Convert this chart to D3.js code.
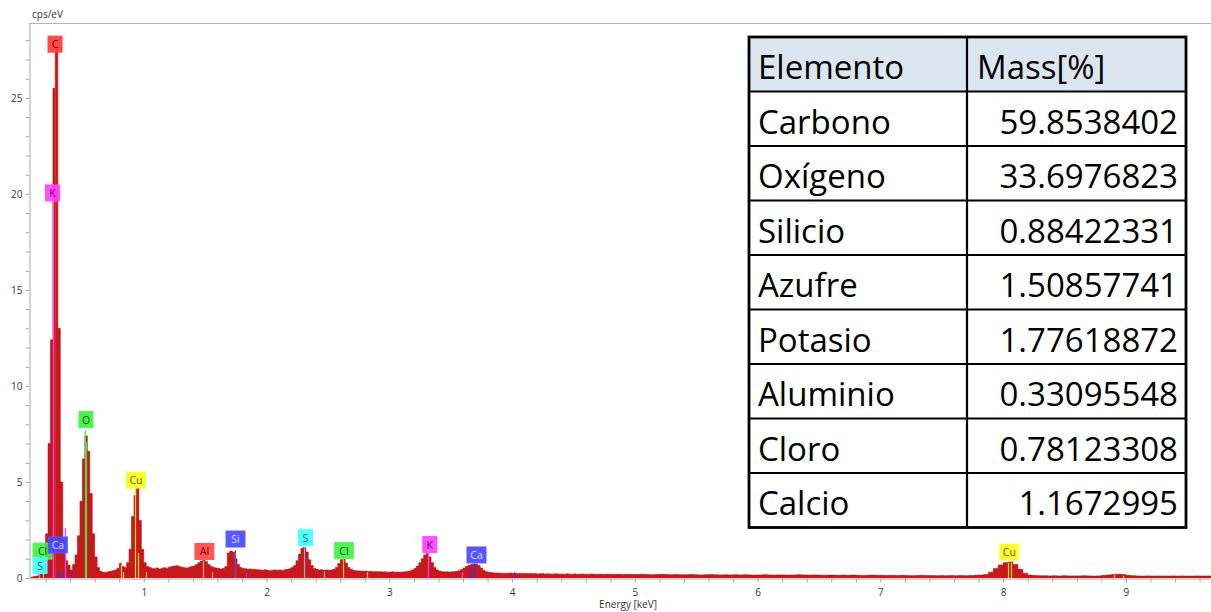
<!DOCTYPE html>
<html>
<head>
<meta charset="utf-8">
<script src="https://cdn.jsdelivr.net/npm/d3@7/dist/d3.min.js"></script>
<style>
  html, body { margin: 0; padding: 0; background: #fff; }
  svg { display: block; }
</style>
</head>
<body>
<svg id="chart" width="1211" height="612"></svg>
<script>
// EDS spectrum: counts per eV, channel groups read at fixed energy steps
const lowStartKeV = 0.08, lowStepKeV = 0.02;
const cpsLow = [
  0.05, 0.08, 0.10, 0.15, 0.25, 0.50, 2.30, 7.00, 12.4, 25.5,
  27.6, 13.0, 5.00, 2.00, 0.90, 0.68, 0.42, 0.70, 1.20, 2.20,
  4.00, 6.20, 7.40, 6.60, 4.40, 2.30, 1.10, 0.55, 0.35, 0.30,
  0.28, 0.32, 0.35, 0.38, 0.42, 0.50, 0.75, 0.60, 0.55, 0.80,
  1.50, 3.20, 4.30, 4.70, 3.00, 1.50, 0.80, 0.60, 0.55, 0.50,
  0.48, 0.52, 0.47, 0.50, 0.54, 0.50, 0.56, 0.60, 0.62, 0.64,
  0.60, 0.56, 0.54, 0.52, 0.55, 0.60, 0.62, 0.70, 0.80, 0.88,
  0.92, 0.85, 0.70, 0.60, 0.55, 0.52, 0.50, 0.47, 0.50, 0.60,
  1.30, 1.40, 1.36, 1.00, 0.70, 0.55, 0.50, 0.48, 0.46, 0.47,
  0.45, 0.44, 0.43, 0.42, 0.40, 0.43, 0.40, 0.38, 0.41, 0.42,
  0.40, 0.42, 0.39, 0.43, 0.45, 0.48, 0.55, 0.65, 0.90, 1.25,
  1.55, 1.60, 1.35, 0.95, 0.65, 0.50, 0.45, 0.42, 0.43, 0.40,
  0.42, 0.40, 0.42, 0.45, 0.55, 0.75, 0.95, 1.00, 0.78, 0.55,
  0.45, 0.40, 0.38, 0.37, 0.36, 0.35, 0.36, 0.34, 0.35, 0.33,
  0.33, 0.32, 0.33, 0.31, 0.32, 0.30, 0.31, 0.32, 0.30, 0.31,
  0.30, 0.31, 0.32, 0.34, 0.37, 0.42, 0.50, 0.62, 0.80, 1.00,
  1.20, 1.27, 1.10, 0.80, 0.55, 0.42, 0.36, 0.33, 0.32, 0.32,
  0.31, 0.32, 0.33, 0.35, 0.38, 0.44, 0.52, 0.60, 0.66, 0.70,
  0.73, 0.72, 0.65, 0.52, 0.40, 0.33, 0.30, 0.28, 0.27, 0.26,
  0.26, 0.25, 0.25, 0.24, 0.25, 0.26, 0.24, 0.25, 0.23, 0.24,
  0.23, 0.24, 0.22, 0.23, 0.22, 0.23, 0.21, 0.22, 0.23, 0.21,
  0.22, 0.21, 0.20, 0.22, 0.21, 0.20, 0.21, 0.20, 0.22, 0.20,
  0.20, 0.21, 0.19, 0.20, 0.21, 0.20, 0.19, 0.20, 0.21, 0.19,
  0.20, 0.19, 0.20, 0.18, 0.19, 0.20, 0.19, 0.18, 0.19, 0.20,
  0.19, 0.18, 0.19, 0.18, 0.19, 0.18
];
const highStartKeV = 5.00, highStepKeV = 0.04;
const cpsHigh = [
  0.18, 0.19, 0.18, 0.17, 0.18, 0.19, 0.18, 0.17, 0.18, 0.17,
  0.17, 0.18, 0.17, 0.16, 0.17, 0.18, 0.17, 0.16, 0.17, 0.16,
  0.17, 0.16, 0.17, 0.16, 0.15, 0.16, 0.17, 0.16, 0.15, 0.16,
  0.16, 0.15, 0.16, 0.17, 0.16, 0.15, 0.16, 0.15, 0.14, 0.15,
  0.15, 0.14, 0.15, 0.14, 0.15, 0.14, 0.13, 0.14, 0.15, 0.14,
  0.14, 0.13, 0.14, 0.13, 0.14, 0.13, 0.12, 0.13, 0.14, 0.13,
  0.13, 0.12, 0.13, 0.12, 0.13, 0.12, 0.13, 0.12, 0.13, 0.14,
  0.15, 0.18, 0.30, 0.50, 0.68, 0.80, 0.83, 0.70, 0.45, 0.25,
  0.15, 0.13, 0.12, 0.12, 0.11, 0.12, 0.11, 0.12, 0.11, 0.11,
  0.11, 0.12, 0.11, 0.10, 0.11, 0.13, 0.16, 0.18, 0.20, 0.18,
  0.14, 0.12, 0.11, 0.10, 0.11, 0.10, 0.11, 0.10, 0.10, 0.11,
  0.10, 0.11, 0.10, 0.10, 0.11, 0.10, 0.10, 0.11, 0.10
];

// Characteristic line markers: element, energy (keV), height (cps/eV)
const markerElement = ['S', 'Cl', 'K', 'C', 'Ca', 'Ca', 'K', 'Ca', 'O', 'O',
  'Cu', 'Cu', 'Cu', 'Cu', 'Cu', 'Al', 'Al', 'Si', 'Si', 'S', 'S', 'Cl', 'Cl',
  'K', 'K', 'Ca', 'Ca', 'Ca', 'Cu', 'Cu', 'Cu', 'Cu'];
const markerKeV = [0.149, 0.183, 0.260, 0.277, 0.302, 0.341, 0.357, 0.410, 0.525, 0.530,
  0.811, 0.832, 0.930, 0.950, 1.022, 1.486, 1.557, 1.740, 1.836, 2.307, 2.464, 2.622, 2.815,
  3.313, 3.589, 3.660, 3.691, 4.012, 8.040, 8.060, 8.905, 8.976];
const markerCps = [0.25, 0.35, 20.0, 27.6, 0.40, 0.30, 2.60, 0.30, 7.70, 7.10,
  0.70, 0.30, 4.80, 1.30, 0.30, 0.90, 0.28, 1.45, 0.30, 1.62, 0.35, 1.00, 0.30,
  1.25, 0.30, 0.50, 0.75, 0.30, 0.80, 0.80, 0.15, 0.12];

// Peak identification tags: symbol, centre energy (keV), centre height (cps/eV)
const tagText = ['C', 'K', 'O', 'Cu', 'Cl', 'S', 'Ca', 'Al', 'Si', 'S', 'Cl', 'K', 'Ca', 'Cu'];
const tagKeV = [0.277, 0.257, 0.529, 0.936, 0.175, 0.155, 0.300, 1.494, 1.747, 2.317, 2.630, 3.330, 3.710, 8.050];
const tagCps = [27.8, 20.05, 8.25, 5.10, 1.40, 0.65, 1.72, 1.38, 2.03, 2.10, 1.43, 1.74, 1.20, 1.35];

// Axis ticks
const yTickValues = d3.range(0, 29, 1);
const xTickValues = d3.range(1, 49).map(i => +(i * 0.2).toFixed(1));

// Quantification table
const tableHeader = ['Elemento', 'Mass[%]'];
const elementNames = ['Carbono', 'Oxígeno', 'Silicio', 'Azufre', 'Potasio', 'Aluminio', 'Cloro', 'Calcio'];
const massPercent = ['59.8538402', '33.6976823', '0.88422331', '1.50857741', '1.77618872', '0.33095548', '0.78123308', '1.1672995'];

// Element colours: tag fill, tag text, marker line
const elementStyle = {
  C:  { fill: '#ff3b3b', text: '#7a0000', line: '#e02a2a' },
  K:  { fill: '#ff40ff', text: '#7a007a', line: '#ff40ff' },
  O:  { fill: '#3ef03e', text: '#1a5a1a', line: '#48e048' },
  Cu: { fill: '#ffff22', text: '#5a5a00', line: '#e8e030' },
  Al: { fill: '#ff4848', text: '#700000', line: '#ff9a9a' },
  Si: { fill: '#4a4aff', text: '#dcdcff', line: '#5050ff' },
  S:  { fill: '#44ffff', text: '#1a6a6a', line: '#7fb8c0' },
  Cl: { fill: '#44f044', text: '#1a5a1a', line: '#b8d040' },
  Ca: { fill: '#4848ff', text: '#dcdcff', line: '#3030ff' }
};

const svg = d3.select('#chart');
const plot = { left: 29, right: 1211, top: 23, bottom: 578 };

const x = d3.scaleLinear().domain([0.065, 9.693]).range([plot.left, plot.right]);
const y = d3.scaleLinear().domain([0, 28.9]).range([plot.bottom, plot.top]);

// Build channel list
const spectrum = [];
cpsLow.forEach((v, i) => spectrum.push({ e: lowStartKeV + i * lowStepKeV, v }));
cpsHigh.forEach((v, i) => spectrum.push({ e: highStartKeV + i * highStepKeV, v }));
spectrum.push({ e: highStartKeV + cpsHigh.length * highStepKeV, v: cpsHigh[cpsHigh.length - 1] });

svg.append('clipPath').attr('id', 'plotClip')
  .append('rect')
  .attr('x', plot.left + 0.5).attr('y', plot.top)
  .attr('width', plot.right - plot.left).attr('height', plot.bottom - plot.top + 1);

// Frame line along the top
svg.append('line')
  .attr('x1', plot.left).attr('x2', plot.right)
  .attr('y1', plot.top + 0.5).attr('y2', plot.top + 0.5)
  .attr('stroke', '#b4b4b4').attr('stroke-width', 1);

// Spectrum
const area = d3.area()
  .curve(d3.curveStepAfter)
  .x(d => x(d.e))
  .y0(y(0))
  .y1(d => y(d.v));
const line = d3.line()
  .curve(d3.curveStepAfter)
  .x(d => x(d.e))
  .y(d => y(d.v));

const g = svg.append('g').attr('clip-path', 'url(#plotClip)');
g.append('path').datum(spectrum)
  .attr('d', area)
  .attr('fill', '#c8181b');
g.append('path').datum(spectrum)
  .attr('d', line)
  .attr('fill', 'none')
  .attr('stroke', '#a51010')
  .attr('stroke-opacity', 0.7)
  .attr('stroke-width', 0.8);

// Line markers
g.selectAll('line.marker')
  .data(markerKeV.map((e, i) => ({ e, v: markerCps[i], el: markerElement[i] })))
  .join('line')
  .attr('class', 'marker')
  .attr('x1', d => Math.round(x(d.e)) + 0.5)
  .attr('x2', d => Math.round(x(d.e)) + 0.5)
  .attr('y1', y(0))
  .attr('y2', d => y(d.v))
  .attr('stroke', d => elementStyle[d.el].line)
  .attr('stroke-width', 1.2);

// Axes
const yAxis = d3.axisLeft(y)
  .tickValues(yTickValues)
  .tickSize(4)
  .tickSizeOuter(0)
  .tickFormat(d => d % 5 === 0 ? d : '');
const yg = svg.append('g').attr('transform', `translate(${plot.left + 0.5},0)`).call(yAxis);

const xAxis = d3.axisBottom(x)
  .tickValues(xTickValues)
  .tickSize(4)
  .tickSizeOuter(0)
  .tickFormat(d => Math.abs(d - Math.round(d)) < 1e-6 ? Math.round(d) : '');
const xg = svg.append('g').attr('transform', `translate(0,${plot.bottom + 0.5})`).call(xAxis);

[yg, xg].forEach(a => {
  a.select('.domain').attr('stroke', '#a8a8a8');
  a.selectAll('.tick line').attr('stroke', '#a8a8a8');
  a.selectAll('.tick text')
    .attr('fill', '#333')
    .style('font-family', '"Open Sans", "Noto Sans", sans-serif')
    .style('font-size', '10px');
});
yg.selectAll('.tick text').attr('x', -7);
xg.selectAll('.tick text').attr('y', 10);

svg.append('text')
  .attr('x', 32).attr('y', 18)
  .attr('fill', '#333')
  .style('font-family', '"Open Sans", "Noto Sans", sans-serif')
  .style('font-size', '10px')
  .text('cps/eV');

svg.append('text')
  .attr('x', 628).attr('y', 608)
  .attr('text-anchor', 'middle')
  .attr('fill', '#333')
  .style('font-family', '"Open Sans", "Noto Sans", sans-serif')
  .style('font-size', '10px')
  .text('Energy [keV]');

// Peak tags
const tags = svg.append('g').selectAll('g')
  .data(tagText.map((t, i) => ({ t, e: tagKeV[i], v: tagCps[i] })))
  .join('g')
  .attr('transform', d => `translate(${x(d.e)},${y(d.v)})`);
tags.each(function (d) {
  const s = elementStyle[d.t];
  const grp = d3.select(this);
  const w = d.t.length > 1 ? 19 : 14;
  grp.append('rect')
    .attr('x', -w / 2).attr('y', -8)
    .attr('width', w).attr('height', 16)
    .attr('fill', s.fill)
    .attr('fill-opacity', 0.92)
    .attr('stroke', d3.color(s.fill).brighter(0.6))
    .attr('stroke-width', 1);
  grp.append('text')
    .attr('text-anchor', 'middle')
    .attr('y', 4)
    .attr('fill', s.text)
    .style('font-family', '"Open Sans", "Noto Sans", sans-serif')
    .style('font-size', '10.5px')
    .text(d.t);
});

// Quantification table
const tbl = { x0: 749, x1: 967, x2: 1186, y0: 37, rowH: 54.5 };
const rows = [tableHeader].concat(elementNames.map((n, i) => [n, massPercent[i]]));
const tg = svg.append('g');
tg.append('rect')
  .attr('x', tbl.x0).attr('y', tbl.y0)
  .attr('width', tbl.x2 - tbl.x0).attr('height', tbl.rowH)
  .attr('fill', '#dce6f1');
rows.forEach((r, i) => {
  const top = tbl.y0 + i * tbl.rowH;
  tg.append('text')
    .attr('x', tbl.x0 + 9).attr('y', top + 42)
    .attr('fill', '#000')
    .style('font-family', '"Open Sans", "Noto Sans", sans-serif')
    .style('font-size', '33px')
    .text(r[0]);
  tg.append('text')
    .attr('x', i === 0 ? tbl.x1 + 10 : tbl.x2 - 8).attr('y', top + 42)
    .attr('text-anchor', i === 0 ? 'start' : 'end')
    .attr('fill', '#000')
    .style('font-family', '"Open Sans", "Noto Sans", sans-serif')
    .style('font-size', '33px')
    .text(r[1]);
  if (i > 0) {
    tg.append('line')
      .attr('x1', tbl.x0).attr('x2', tbl.x2)
      .attr('y1', top).attr('y2', top)
      .attr('stroke', '#000').attr('stroke-width', 2.2);
  }
});
tg.append('line')
  .attr('x1', tbl.x1).attr('x2', tbl.x1)
  .attr('y1', tbl.y0).attr('y2', tbl.y0 + rows.length * tbl.rowH)
  .attr('stroke', '#000').attr('stroke-width', 2.2);
tg.append('rect')
  .attr('x', tbl.x0).attr('y', tbl.y0)
  .attr('width', tbl.x2 - tbl.x0).attr('height', rows.length * tbl.rowH)
  .attr('fill', 'none')
  .attr('stroke', '#000').attr('stroke-width', 2.8);
</script>
</body>
</html>
